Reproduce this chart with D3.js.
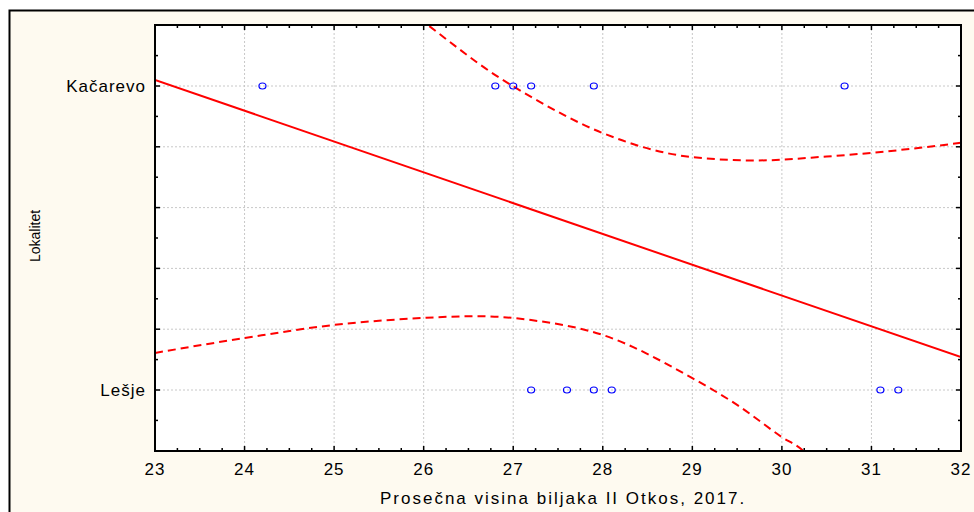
<!DOCTYPE html>
<html><head><meta charset="utf-8">
<script src="https://cdn.jsdelivr.net/npm/d3@7"></script>
<style>body{margin:0;background:#fff}</style>
</head><body><div id="container"></div>
<script>
// data (y: Lešje = 0, Kačarevo = 1)
let categories = ["Lešje", "Kačarevo"];
let kacarevoX = [24.2, 26.8, 27.0, 27.2, 27.9, 30.7];
let lesjeX = [27.2, 27.6, 27.9, 28.1, 31.1, 31.3];
let fitLine = [[23, 1.02], [32, 0.108]];
let upperBand = [[25.6, 1.30], [26.0, 1.211], [26.8, 1.036], [27.2, 0.964], [28, 0.845], [29, 0.766], [29.7, 0.755], [30.5, 0.768], [31, 0.78], [32, 0.813]];
let lowerBand = [[23, 0.122], [24, 0.171], [25, 0.214], [26, 0.237], [26.6, 0.243], [27.2, 0.23], [28, 0.181], [29, 0.039], [29.5, -0.049], [30, -0.155], [30.25, -0.204], [30.4, -0.26]];

let w = 974, h = 512;
let pLeft = 155, pRight = 961, pTop = 25, pBottom = 451;
let svg = d3.select("#container").append("svg").attr("width", w).attr("height", h);

svg.append("rect").attr("x", 9.5).attr("y", 10.5).attr("width", 1000).attr("height", 600)
  .attr("fill", "#fefaf0").attr("stroke", "#000").attr("stroke-width", 2);
svg.append("rect").attr("x", pLeft).attr("y", pTop).attr("width", pRight-pLeft).attr("height", pBottom-pTop).attr("fill", "#fff");

let x = d3.scaleLinear().domain([23, 32]).range([pLeft, pRight]);
let y = d3.scaleLinear().domain([0, 1]).range([390, 86]);

let grid = svg.append("g").attr("stroke", "#c8c8c8").attr("stroke-dasharray", "2,2");
d3.range(24, 32).forEach(v => grid.append("line").attr("x1", x(v)).attr("x2", x(v)).attr("y1", pTop).attr("y2", pBottom));
[0, 0.2, 0.4, 0.6, 0.8, 1].forEach(v => grid.append("line").attr("x1", pLeft).attr("x2", pRight).attr("y1", y(v)).attr("y2", y(v)));

let clip = svg.append("clipPath").attr("id", "c").append("rect")
  .attr("x", pLeft).attr("y", pTop).attr("width", pRight-pLeft).attr("height", pBottom-pTop);
let plot = svg.append("g").attr("clip-path", "url(#c)");
let line = d3.line().x(d => x(d[0])).y(d => y(d[1]));
let curve = d3.line().x(d => x(d[0])).y(d => y(d[1])).curve(d3.curveMonotoneX);
plot.append("path").attr("d", line(fitLine)).attr("stroke", "#f00").attr("stroke-width", 2).attr("fill", "none");
[upperBand, lowerBand].forEach(b => plot.append("path").attr("d", curve(b)).attr("stroke", "#f00")
  .attr("stroke-width", 2).attr("stroke-dasharray", "8,5").attr("fill", "none"));

[[kacarevoX, 1], [lesjeX, 0]].forEach(([xs, c]) => {
  plot.selectAll(null).data(xs).enter().append("ellipse")
    .attr("cx", d => x(d)).attr("cy", y(c)).attr("rx", 3.5).attr("ry", 3)
    .attr("fill", "none").attr("stroke", "#00f").attr("stroke-width", 1.2);
});

// frame and ticks
svg.append("rect").attr("x", pLeft).attr("y", pTop).attr("width", pRight-pLeft).attr("height", pBottom-pTop)
  .attr("fill", "none").attr("stroke", "#000").attr("stroke-width", 2);
let ticks = svg.append("g").attr("stroke", "#000").attr("stroke-width", 1.5);
d3.range(23, 32.01, 0.25).forEach(v => {
  let len = Math.abs(v - Math.round(v)) < 0.01 ? 5 : 3;
  ticks.append("line").attr("x1", x(v)).attr("x2", x(v)).attr("y1", pBottom).attr("y2", pBottom-len);
  ticks.append("line").attr("x1", x(v)).attr("x2", x(v)).attr("y1", pTop).attr("y2", pTop+len);
});
d3.range(-0.2, 1.21, 0.1).forEach(v => {
  let major = Math.abs(v*5 - Math.round(v*5)) < 0.01;
  let len = major ? 5 : 3;
  ticks.append("line").attr("x1", pLeft).attr("x2", pLeft+len).attr("y1", y(v)).attr("y2", y(v));
  ticks.append("line").attr("x1", pRight).attr("x2", pRight-len).attr("y1", y(v)).attr("y2", y(v));
});

let font = "Liberation Sans, Arial, sans-serif";
d3.range(23, 33).forEach(v => svg.append("text").attr("x", x(v)).attr("y", 475).attr("text-anchor", "middle")
  .attr("font-family", font).attr("font-size", 17).attr("letter-spacing", 1).text(v));
categories.forEach((c, i) => svg.append("text").attr("x", 146).attr("y", y(i)+6).attr("text-anchor", "end")
  .attr("font-family", font).attr("font-size", 17).attr("letter-spacing", 1).text(c));
svg.append("text").attr("x", 380).attr("y", 504).attr("text-anchor", "start")
  .attr("font-family", font).attr("font-size", 17).attr("letter-spacing", 2).text("Prosečna visina biljaka II Otkos, 2017.");
svg.append("text").attr("transform", "translate(40,236) rotate(-90)").attr("text-anchor", "middle")
  .attr("font-family", font).attr("font-size", 14).text("Lokalitet");
</script></body></html>
